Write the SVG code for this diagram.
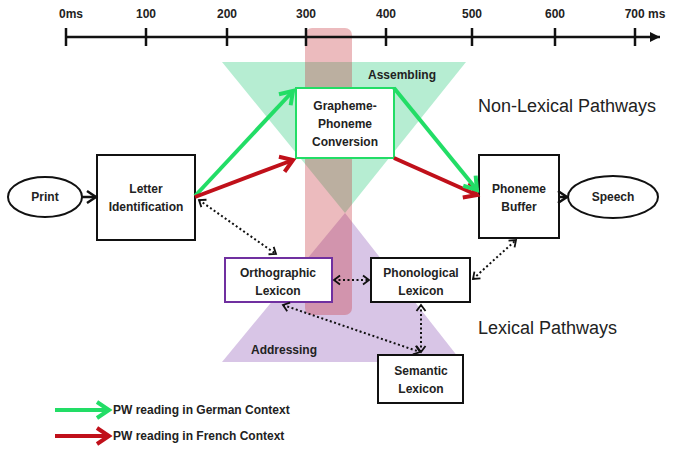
<svg xmlns="http://www.w3.org/2000/svg" width="693" height="449" viewBox="0 0 693 449">
<defs>
<style>
text{font-family:"Liberation Sans",Arial,sans-serif;font-weight:bold;font-size:12px;fill:#222;text-anchor:middle}
.big{font-weight:normal;font-size:18px;text-anchor:start;fill:#222}
.box{fill:#fff;stroke:#111;stroke-width:2}
.g{stroke:#22dd66;stroke-width:4;fill:none}
.r{stroke:#c0101a;stroke-width:4;fill:none}
.d{stroke:#111;stroke-width:2;stroke-dasharray:2,2.5;fill:none;marker-start:url(#dh);marker-end:url(#dh)}
.k{stroke:#111;stroke-width:2.5;fill:none}
</style>
<marker id="gh" markerUnits="userSpaceOnUse" markerWidth="20" markerHeight="20" viewBox="0 0 20 20" refX="16" refY="10" orient="auto"><polyline points="4,2 16,10 4,18" fill="none" stroke="#22dd66" stroke-width="4"/></marker>
<marker id="rh" markerUnits="userSpaceOnUse" markerWidth="20" markerHeight="20" viewBox="0 0 20 20" refX="16" refY="10" orient="auto"><polyline points="4,2 16,10 4,18" fill="none" stroke="#c0101a" stroke-width="4"/></marker>
<marker id="kh" markerUnits="userSpaceOnUse" markerWidth="16" markerHeight="16" viewBox="0 0 16 16" refX="13" refY="8" orient="auto"><polyline points="4,2 13,8 4,14" fill="none" stroke="#111" stroke-width="2.5"/></marker>
<marker id="ta" markerUnits="userSpaceOnUse" markerWidth="14" markerHeight="14" viewBox="0 0 14 14" refX="12" refY="7" orient="auto"><path d="M2,2 L12,7 L2,12 Z" fill="#111"/></marker>
<marker id="dh" markerUnits="userSpaceOnUse" markerWidth="12" markerHeight="12" viewBox="0 0 12 12" refX="10" refY="6" orient="auto-start-reverse"><polyline points="4,1.5 10,6 4,10.5" fill="none" stroke="#111" stroke-width="1.8"/></marker>
</defs>
<rect width="693" height="449" fill="#fff"/>

<g id="background">
<polygon points="222,62 466,62 345,213" fill="#b6edd2"/>
<polygon points="345,213 462,362 222,362" fill="#d8c5e6"/>
<rect x="305" y="28" width="47" height="287" rx="7" fill="#c4303a" fill-opacity="0.33"/>
</g>

<g id="timeline">
<line x1="66" y1="37" x2="660" y2="37" class="k" marker-end="url(#ta)"/>
<g stroke="#111" stroke-width="2.5">
<line x1="66" y1="28" x2="66" y2="46"/><line x1="146" y1="28" x2="146" y2="46"/><line x1="227" y1="28" x2="227" y2="46"/><line x1="306" y1="28" x2="306" y2="46"/><line x1="386" y1="28" x2="386" y2="46"/><line x1="472" y1="28" x2="472" y2="46"/><line x1="555" y1="28" x2="555" y2="46"/><line x1="635" y1="28" x2="635" y2="46"/>
</g>
<text x="71" y="18">0ms</text><text x="146" y="18">100</text><text x="227" y="18">200</text><text x="306" y="18">300</text><text x="386" y="18">400</text><text x="472" y="18">500</text><text x="555" y="18">600</text><text x="645" y="18">700 ms</text>
</g>

<text x="402" y="79">Assembling</text>
<text class="big" x="478" y="112">Non-Lexical Pathways</text>
<text class="big" x="478" y="334">Lexical Pathways</text>
<text x="284" y="354">Addressing</text>

<g id="print"><ellipse cx="45" cy="197" rx="37" ry="20" class="box"/><text x="45" y="201">Print</text></g>
<g id="letter"><rect x="97" y="155" width="98" height="85" class="box"/><text x="146" y="193">Letter</text><text x="146" y="211">Identification</text></g>
<g id="gpc"><rect x="296" y="88" width="98" height="70" fill="#fff" stroke="#22dd66" stroke-width="2"/><text x="345" y="110">Grapheme-</text><text x="345" y="128">Phoneme</text><text x="345" y="146">Conversion</text></g>
<g id="buffer"><rect x="479" y="155" width="80" height="83" class="box"/><text x="519" y="193">Phoneme</text><text x="519" y="211">Buffer</text></g>
<g id="speech"><ellipse cx="613" cy="197" rx="45" ry="21" class="box"/><text x="613" y="201">Speech</text></g>
<g id="ortho"><rect x="225" y="258" width="107" height="44" fill="#fff" stroke="#7030a0" stroke-width="2"/><text x="278" y="277">Orthographic</text><text x="278" y="295">Lexicon</text></g>
<g id="phono"><rect x="371" y="258" width="99" height="44" class="box"/><text x="421" y="277">Phonological</text><text x="421" y="295">Lexicon</text></g>
<g id="semantic"><rect x="378" y="355" width="85" height="48" class="box"/><text x="421" y="375">Semantic</text><text x="421" y="393">Lexicon</text></g>

<g id="connectors">
<line x1="82" y1="197" x2="96" y2="197" class="k" marker-end="url(#kh)"/>
<line x1="559" y1="197" x2="567" y2="197" class="k" marker-end="url(#kh)"/>
<line x1="195" y1="196" x2="293" y2="91" class="g" marker-end="url(#gh)"/>
<line x1="195" y1="197" x2="293" y2="160" class="r" marker-end="url(#rh)"/>
<line x1="394" y1="158" x2="477" y2="195" class="r" marker-end="url(#rh)"/>
<line x1="394" y1="88" x2="477" y2="190" class="g" marker-end="url(#gh)"/>
<line x1="199" y1="200" x2="276" y2="254" class="d"/>
<line x1="334" y1="280" x2="369" y2="280" class="d"/>
<line x1="473" y1="279" x2="516" y2="240" class="d"/>
<line x1="283" y1="305" x2="420" y2="352" class="d"/>
<line x1="421" y1="305" x2="421" y2="352" class="d"/>
</g>

<g id="legend">
<line x1="55" y1="410" x2="109" y2="410" class="g" marker-end="url(#gh)"/>
<text x="113" y="414" style="text-anchor:start">PW reading in German Context</text>
<line x1="55" y1="436" x2="109" y2="436" class="r" marker-end="url(#rh)"/>
<text x="113" y="440" style="text-anchor:start">PW reading in French Context</text>
</g>
</svg>
